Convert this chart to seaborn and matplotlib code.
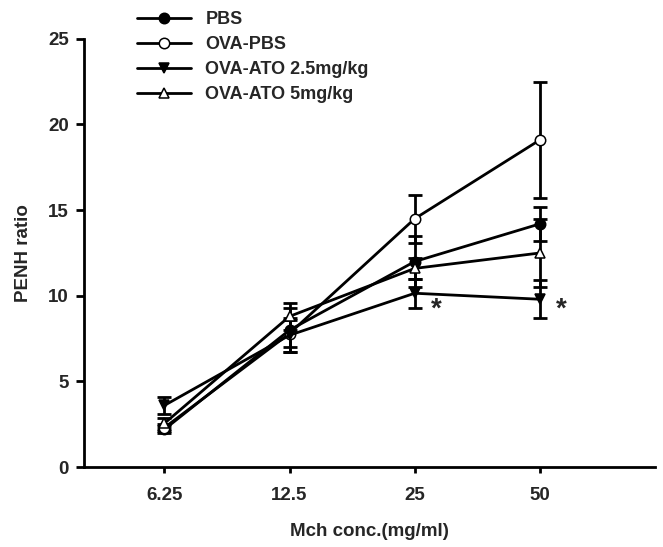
import matplotlib
matplotlib.use("Agg")
import matplotlib.pyplot as plt
import seaborn as sns
import numpy as np

conc_labels = ["6.25", "12.5", "25", "50"]
series_names = ["PBS", "OVA-PBS", "OVA-ATO 2.5mg/kg", "OVA-ATO 5mg/kg"]
pbs_mean = [2.2, 8.0, 12.0, 14.2]
pbs_err = [0.2, 1.3, 1.5, 1.0]
ovapbs_mean = [2.3, 7.8, 14.5, 19.1]
ovapbs_err = [0.2, 0.8, 1.4, 3.4]
ato25_mean = [3.6, 7.7, 10.15, 9.8]
ato25_err = [0.5, 1.0, 0.85, 1.1]
ato5_mean = [2.55, 8.8, 11.6, 12.5]
ato5_err = [0.3, 0.8, 0.6, 2.0]
star_positions = [2, 3]
star_value = 9.2

sns.set_theme(style="ticks")
plt.rcParams['font.family'] = ['Liberation Sans', 'DejaVu Sans']
plt.rcParams['font.weight'] = 'bold'

fig = plt.figure(figsize=(6.63, 5.47), dpi=100)
ax = fig.add_axes([0.127, 0.146, 0.861, 0.783])

x = np.arange(len(conc_labels))
means = [pbs_mean, ovapbs_mean, ato25_mean, ato5_mean]
errs = [pbs_err, ovapbs_err, ato25_err, ato5_err]
markers = ["o", "o", "v", "^"]
faces = ["black", "white", "black", "white"]

handles = []
for name, m, e, mk, fc in zip(series_names, means, errs, markers, faces):
    ax.errorbar(x, m, yerr=e, fmt="none", ecolor="black", elinewidth=2,
                capsize=5, capthick=2, zorder=2)
    sns.lineplot(x=x, y=m, ax=ax, color="black", linewidth=2, marker=mk,
                 markersize=7.5, markerfacecolor=fc, markeredgecolor="black",
                 markeredgewidth=1.1, zorder=3, legend=False)
    h, = ax.plot([], [], color="black", linewidth=2, marker=mk, markersize=7.5,
                 markerfacecolor=fc, markeredgecolor="black", markeredgewidth=1.1)
    handles.append(h)

for sp in star_positions:
    ax.text(sp + 0.17, star_value, "*", fontsize=20, fontweight="bold",
            ha="center", va="center")

ax.set_xlim(-0.64, 3.92)
ax.set_ylim(0, 25)
ax.set_xticks(x)
ax.set_xticklabels(conc_labels)
ax.set_yticks([0, 5, 10, 15, 20, 25])
ax.tick_params(axis="both", labelsize=13.5, width=2, color="black")
ax.tick_params(axis="y", length=6, direction="out", pad=5)
ax.tick_params(axis="x", length=4, direction="out", pad=10)
for lab in ax.get_xticklabels() + ax.get_yticklabels():
    lab.set_fontweight("bold")
for s in ["top", "right"]:
    ax.spines[s].set_visible(False)
for s in ["left", "bottom"]:
    ax.spines[s].set_linewidth(2)
    ax.spines[s].set_color("black")

ax.set_xlabel("Mch conc.(mg/ml)", fontsize=13.5, fontweight="bold", labelpad=14)
ax.set_ylabel("PENH ratio", fontsize=13.5, fontweight="bold", labelpad=12)

fig.legend(handles, series_names, loc="upper left", bbox_to_anchor=(0.19, 1.0),
           frameon=False, handlelength=3.0, labelspacing=0.45, handletextpad=0.8,
           borderaxespad=0.2, prop={"weight": "bold", "size": 13})

fig.savefig("out.png", dpi=100)
